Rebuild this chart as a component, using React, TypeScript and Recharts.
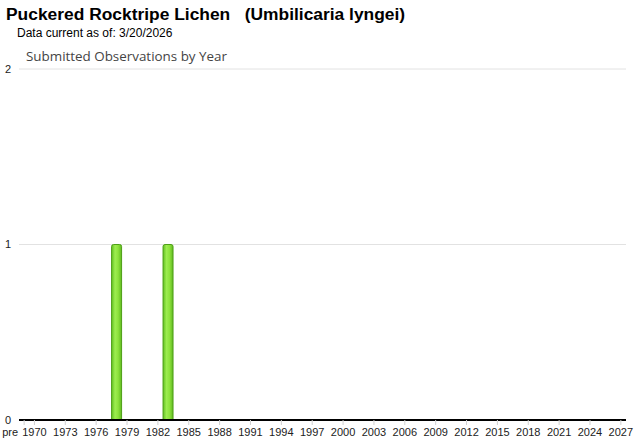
import { BarChart, Bar, XAxis, YAxis, CartesianGrid } from 'recharts';

const categories = [
  'pre', '1970', '1971', '1972', '1973', '1974', '1975', '1976', '1977', '1978', '1979',
  '1980', '1981', '1982', '1983', '1984', '1985', '1986', '1987', '1988', '1989',
  '1990', '1991', '1992', '1993', '1994', '1995', '1996', '1997', '1998', '1999',
  '2000', '2001', '2002', '2003', '2004', '2005', '2006', '2007', '2008', '2009',
  '2010', '2011', '2012', '2013', '2014', '2015', '2016', '2017', '2018', '2019',
  '2020', '2021', '2022', '2023', '2024', '2025', '2026', '2027',
];

const observations = [
  0, 0, 0, 0, 0, 0, 0, 0, 0, 1, 0,
  0, 0, 0, 1, 0, 0, 0, 0, 0, 0,
  0, 0, 0, 0, 0, 0, 0, 0, 0, 0,
  0, 0, 0, 0, 0, 0, 0, 0, 0, 0,
  0, 0, 0, 0, 0, 0, 0, 0, 0, 0,
  0, 0, 0, 0, 0, 0, 0, 0,
];

const tickLabels = [
  'pre', '1970', '1973', '1976', '1979', '1982', '1985', '1988', '1991', '1994', '1997',
  '2000', '2003', '2006', '2009', '2012', '2015', '2018', '2021', '2024', '2027',
];

const yTicks = [0, 1, 2];

const data = categories.map((year, i) => ({ year, count: observations[i] }));

const FONT = '"Liberation Sans", Arial, sans-serif';

function YearTick(props: any) {
  const { x, y, payload } = props;
  const label = payload.value;
  if (!tickLabels.includes(label)) return null;
  const isPre = label === 'pre';
  return (
    <g>
      <line x1={x} y1={y - 8} x2={x} y2={y - 3} stroke="#d0d0d0" strokeWidth={1} />
      <text
        x={isPre ? x - 6 : x}
        y={y}
        dy="0.71em"
        textAnchor={isPre ? 'end' : 'middle'}
        fontSize={11}
        fontFamily={FONT}
        fill="#222"
      >
        {label}
      </text>
    </g>
  );
}

export default function App() {
  return (
    <div style={{ position: 'absolute', left: 0, top: 0, width: 640, height: 442, background: '#fff', fontFamily: FONT }}>
      <div style={{ position: 'absolute', left: 6, top: 6, fontSize: 17.4, lineHeight: '17.4px', fontWeight: 'bold', color: '#000', whiteSpace: 'pre' }}>
        {'Puckered Rocktripe Lichen   (Umbilicaria lyngei)'}
      </div>
      <div style={{ position: 'absolute', left: 17, top: 27, fontSize: 12, lineHeight: '12px', color: '#000' }}>
        Data current as of: 3/20/2026
      </div>
      <div style={{ position: 'absolute', left: 26, top: 50, fontSize: 13.4, lineHeight: '13.4px', color: '#444', fontFamily: '"Open Sans", sans-serif' }}>
        Submitted Observations by Year
      </div>
      <BarChart
        width={640}
        height={442}
        data={data}
        margin={{ top: 69, right: 14, left: 0, bottom: 0 }}
        barCategoryGap={0}
        style={{ position: 'absolute', left: 0, top: 0 }}
      >
        <defs>
          <linearGradient id="barGreen" x1="0" y1="0" x2="1" y2="0">
            <stop offset="0%" stopColor="#62c022" />
            <stop offset="35%" stopColor="#9ded50" />
            <stop offset="65%" stopColor="#8de23c" />
            <stop offset="100%" stopColor="#5fba20" />
          </linearGradient>
        </defs>
        <CartesianGrid vertical={false} stroke="#e2e2e2" />
        <XAxis
          dataKey="year"
          interval={0}
          height={22}
          tick={<YearTick />}
          tickLine={false}
          axisLine={{ stroke: '#000', strokeWidth: 2 }}
        />
        <YAxis
          width={19}
          domain={[0, 2]}
          ticks={yTicks}
          tickLine={false}
          axisLine={false}
          tick={{ fontSize: 11, fontFamily: FONT, fill: '#222' }}
        />
        <Bar
          dataKey="count"
          fill="url(#barGreen)"
          stroke="#4e9f16"
          strokeWidth={1}
          radius={[2, 2, 0, 0]}
          isAnimationActive={false}
        />
      </BarChart>
    </div>
  );
}
